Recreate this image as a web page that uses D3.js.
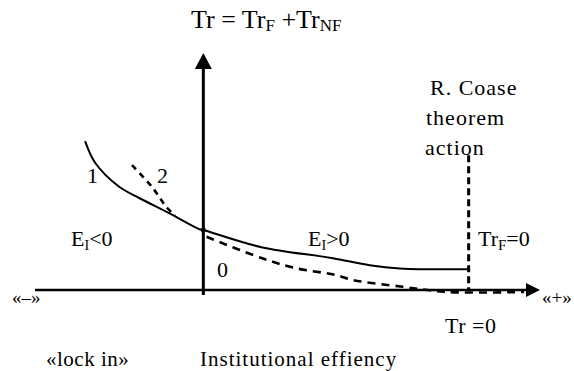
<!DOCTYPE html>
<html>
<head>
<meta charset="utf-8">
<script src="https://cdn.jsdelivr.net/npm/d3@7"></script>
<style>
  html, body { margin: 0; padding: 0; background: #fff; }
  text, tspan { font-family: "Liberation Serif", "DejaVu Serif", serif !important; }
</style>
</head>
<body>
<svg id="chart" width="574" height="371"></svg>
<script>
// ---- data (institutional efficiency E vs transaction costs Tr) ----
const curve1E  = [-2.95, -2.7, -2.1, -1.6, -0.85, -0.1, 0, 1.45, 3.2, 4.15, 4.9, 6.6];
const curve1Tr = [3.72, 3.18, 2.58, 2.3, 1.92, 1.52, 1.5, 1.07, 0.8, 0.62, 0.54, 0.52];

const curve2LeftE  = [-1.78, -1.3, -0.9, -0.7];
const curve2LeftTr = [3.12, 2.6, 2.05, 1.86];

const curve2RightE  = [0.08, 1.45, 2.28, 3.28, 3.73, 4.98, 6.08, 8.0];
const curve2RightTr = [1.33, 0.8, 0.55, 0.38, 0.25, 0.08, -0.05, -0.05];

const coaseE = 6.62;           // R. Coase theorem action
const coaseTr = [3.37, 0];

const xDomain = [-4.2, 8.4];
const yDomain = [0, 6];

const coaseLines = ["R. Coase", "theorem", "action"];
const curveNames = ["1", "2"];
const bottomLabels = ["«lock in»", "Institutional effiency"];
const axisEnds = ["«–»", "«+»"];

// ---- drawing ----
const FONT = "'Liberation Serif', 'DejaVu Serif', serif";
const svg = d3.select("#chart");
const x = d3.scaleLinear().domain(xDomain).range([35, 540]);
const y = d3.scaleLinear().domain(yDomain).range([290, 50]);

const line = d3.line().x(d => x(d[0])).y(d => y(d[1])).curve(d3.curveCatmullRom.alpha(0.5));
const zip = (a, b) => a.map((v, i) => [v, b[i]]);

// axes
const x0 = x(0), y0 = y(0);
svg.append("line").attr("x1", x(xDomain[0])).attr("x2", x(xDomain[1]) - 10)
  .attr("y1", y0).attr("y2", y0).attr("stroke", "#000").attr("stroke-width", 2.6);
svg.append("path")
  .attr("d", `M${x(xDomain[1])},${y0} L${x(xDomain[1]) - 14},${y0 - 7} L${x(xDomain[1]) - 14},${y0 + 7} Z`)
  .attr("fill", "#000");
svg.append("line").attr("x1", x0).attr("x2", x0)
  .attr("y1", y0 + 5).attr("y2", 66).attr("stroke", "#000").attr("stroke-width", 3);
svg.append("path")
  .attr("d", `M${x0},53 L${x0 - 8.5},69 L${x0 + 8.5},69 Z`)
  .attr("fill", "#000");

// curve 1 (solid)
svg.append("path").datum(zip(curve1E, curve1Tr))
  .attr("d", line).attr("fill", "none").attr("stroke", "#000").attr("stroke-width", 2);
// curve 2 (dashed)
svg.append("path").datum(zip(curve2LeftE, curve2LeftTr))
  .attr("d", line).attr("fill", "none").attr("stroke", "#000")
  .attr("stroke-width", 2.6).attr("stroke-dasharray", "6,5");
svg.append("path").datum(zip(curve2RightE, curve2RightTr))
  .attr("d", line).attr("fill", "none").attr("stroke", "#000")
  .attr("stroke-width", 2.6).attr("stroke-dasharray", "8,6");
svg.append("circle").attr("cx", x0).attr("cy", y(1.5)).attr("r", 2.5).attr("fill", "#000");

// Coase vertical dashed line
svg.append("line").attr("x1", x(coaseE)).attr("x2", x(coaseE))
  .attr("y1", y(coaseTr[0])).attr("y2", y(coaseTr[1]))
  .attr("stroke", "#000").attr("stroke-width", 3).attr("stroke-dasharray", "7,4");

// texts
const fs = 22;
function txt(xp, yp, size) {
  return svg.append("text").attr("x", xp).attr("y", yp)
    .style("font-family", FONT).style("font-size", (size || fs) + "px")
    .attr("fill", "#000");
}
function sub(t, s, size, drop) {
  t.append("tspan").style("font-size", (size || 14) + "px").attr("dy", drop || 4).text(s);
}
function back(t, s, drop) {
  t.append("tspan").attr("dy", -(drop || 4)).text(s);
}
// title
const tt = txt(191, 28, 26);
tt.append("tspan").text("Tr = Tr");
sub(tt, "F", 17, 3);
back(tt, " +Tr", 3);
sub(tt, "NF", 17, 3);

coaseLines.forEach((s, i) => {
  txt(i === 0 ? 430 : (i === 1 ? 426 : 425), 95 + i * 30).attr("letter-spacing", 1).text(s);
});

const t1 = txt(71, 246); t1.append("tspan").text("E"); sub(t1, "I", 14); back(t1, "<0");
const t2 = txt(308, 246); t2.append("tspan").text("E"); sub(t2, "I", 14); back(t2, ">0");
const t3 = txt(478, 246); t3.append("tspan").text("Tr"); sub(t3, "F", 15); back(t3, "=0");

txt(217, 277).text("0");
txt(87, 183).text(curveNames[0]);
txt(157, 183).text(curveNames[1]);

txt(12, 304, 19).text(axisEnds[0]);
txt(542, 304, 19).text(axisEnds[1]);
txt(445, 333).attr("letter-spacing", 0.5).text("Tr =0");
txt(46, 366, 21).attr("letter-spacing", 0.5).text(bottomLabels[0]);
txt(200, 366, 21).attr("letter-spacing", 1).text(bottomLabels[1]);
</script>
</body>
</html>
